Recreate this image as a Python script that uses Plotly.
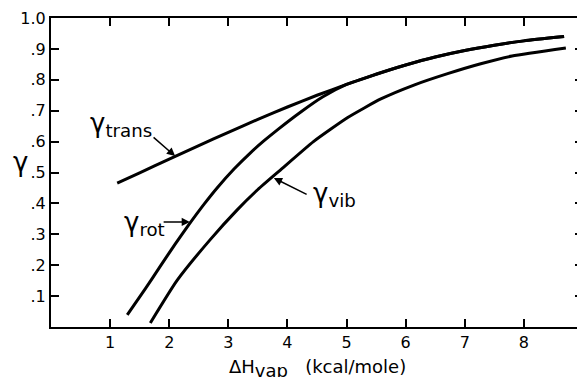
import plotly.graph_objects as go

# ---- data ----
trans_x = [1.12, 1.5, 2.0, 2.5, 3.0, 3.5, 4.0, 4.5, 5.0, 5.5, 6.0, 6.5, 7.0, 7.5, 8.0, 8.68]
trans_y = [0.466, 0.499, 0.543, 0.587, 0.630, 0.672, 0.712, 0.75, 0.785, 0.818, 0.848, 0.874, 0.895, 0.912, 0.926, 0.94]

rot_x = [1.29, 1.6, 1.85, 2.1, 2.32, 2.6, 2.81, 3.1, 3.37, 3.6, 3.83, 4.22, 4.6, 5.0, 5.5, 6.0, 6.5, 7.0, 7.5, 8.0, 8.68]
rot_y = [0.039, 0.125, 0.197, 0.268, 0.328, 0.40, 0.45, 0.512, 0.563, 0.602, 0.638, 0.695, 0.745, 0.785, 0.818, 0.848, 0.874, 0.895, 0.912, 0.926, 0.94]

vib_x = [1.68, 2.13, 2.69, 3.15, 3.5, 3.88, 4.44, 5.02, 5.58, 6.14, 6.71, 7.27, 7.8, 8.71]
vib_y = [0.013, 0.150, 0.282, 0.379, 0.445, 0.508, 0.600, 0.678, 0.738, 0.783, 0.820, 0.852, 0.877, 0.903]

x_ticks = [1, 2, 3, 4, 5, 6, 7, 8]
x_tick_labels = ["1", "2", "3", "4", "5", "6", "7", "8"]
y_ticks = [0.1, 0.2, 0.3, 0.4, 0.5, 0.6, 0.7, 0.8, 0.9, 1.0]
y_tick_labels = [".1", ".2", ".3", ".4", ".5", ".6", ".7", ".8", ".9", "1.0"]

FONT = "DejaVu Sans"
line_style = dict(color="black", width=3, shape="spline", smoothing=0.5)

fig = go.Figure()
for xs, ys, name in [(trans_x, trans_y, "trans"), (rot_x, rot_y, "rot"), (vib_x, vib_y, "vib")]:
    fig.add_trace(go.Scatter(x=xs, y=ys, mode="lines", line=line_style, name=name,
                             showlegend=False, hoverinfo="skip"))

axis_common = dict(showline=True, linecolor="black", linewidth=2, mirror="allticks",
                   ticks="inside", ticklen=8, tickwidth=1.5, tickcolor="black",
                   showgrid=False, zeroline=False, automargin=False,
                   tickfont=dict(family=FONT, size=16, color="black"))

fig.update_xaxes(range=[0, 9.0], tickvals=x_ticks, ticktext=x_tick_labels,
                 ticklabelstandoff=0, **axis_common)
fig.update_yaxes(range=[0, 1.0], tickvals=y_ticks, ticktext=y_tick_labels,
                 ticklabelstandoff=0, **axis_common)

annots = []
# curve labels
label_font = dict(family=FONT, size=26, color="black")
annots.append(dict(x=0.63, y=0.655, xref="x", yref="y", text="γ<sub>trans</sub>",
                   showarrow=False, xanchor="left", yanchor="middle", font=label_font))
annots.append(dict(x=1.2, y=0.335, xref="x", yref="y", text="γ<sub>rot</sub>",
                   showarrow=False, xanchor="left", yanchor="middle", font=label_font))
annots.append(dict(x=4.40, y=0.43, xref="x", yref="y", text="γ<sub>vib</sub>",
                   showarrow=False, xanchor="left", yanchor="middle", font=label_font))
# arrows
arrow = dict(showarrow=True, text="", arrowhead=2, arrowsize=1.1, arrowwidth=1.5,
             arrowcolor="black", xref="x", yref="y", axref="x", ayref="y", standoff=0)
annots.append(dict(x=2.10, y=0.553, ax=1.71, ay=0.618, **arrow))
annots.append(dict(x=2.35, y=0.340, ax=1.88, ay=0.340, **arrow))
annots.append(dict(x=3.77, y=0.482, ax=4.35, ay=0.427, **arrow))
# axis titles
annots.append(dict(x=-0.058, y=0.535, xref="paper", yref="paper", text="γ",
                   showarrow=False, xanchor="center", yanchor="middle", font=label_font))
annots.append(dict(x=0.5, y=-0.135, xref="paper", yref="paper",
                   text="ΔH<sub><span style='font-size:18px'>vap</span></sub>\u00a0\u00a0\u00a0(kcal/mole)",
                   showarrow=False, xanchor="center", yanchor="middle",
                   font=dict(family=FONT, size=18, color="black")))

# the page body has an 8px margin, so the figure is 8px smaller and margins shifted
fig.update_layout(width=577, height=369, margin=dict(l=43, r=2, t=10, b=50, autoexpand=False),
                  paper_bgcolor="white", plot_bgcolor="white", annotations=annots)

fig.write_html("out.html")
